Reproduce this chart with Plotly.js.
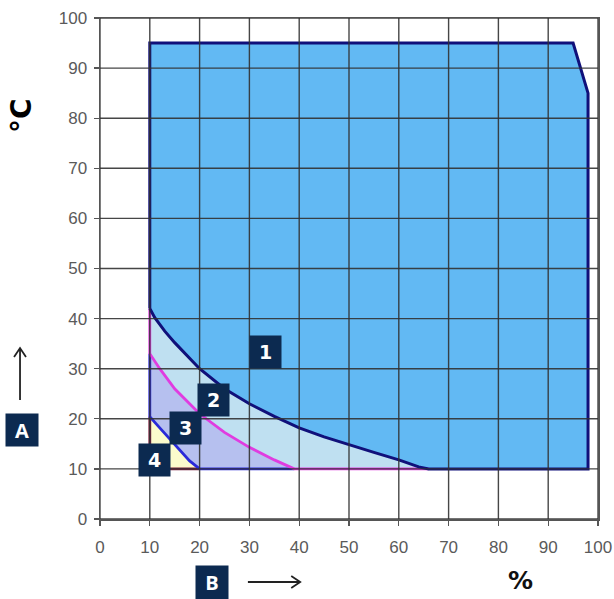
<!DOCTYPE html>
<html>
<head>
<meta charset="utf-8">
<script src="https://cdn.plot.ly/plotly-3.0.1.min.js"></script>
<style>html,body{margin:0;padding:0;background:#fff;}#chart{width:614px;height:599px;}</style>
</head>
<body>
<div id="chart"></div>
<script>
// Outer boundary of zone 1 (corners)
const zone1X = [10, 10, 95, 98, 98];
const zone1Y = [42, 95, 95, 85, 10];
// Boundary curve between zone 1 and zone 2 (navy)
const curve1X = [10, 11, 13, 15, 18, 20, 25, 30, 35, 40, 45, 50, 55, 60, 64, 66];
const curve1Y = [42, 40.2, 37.5, 35.2, 32, 30, 26, 23, 20.5, 18.2, 16.4, 14.8, 13.3, 11.8, 10.4, 10];
// Boundary curve between zone 2 and zone 3 (magenta)
const curve2X = [10, 12, 15, 20, 25, 30, 35, 39];
const curve2Y = [33, 30, 26, 21, 17.3, 14.3, 11.8, 10];
// Boundary curve between zone 3 and zone 4 (blue)
const curve3X = [10, 12, 14, 16, 18, 20];
const curve3Y = [20.4, 18.2, 16, 13.8, 11.6, 10];
// Lower-left corner of all zones
const cornerX = 10, cornerY = 10;
// Zone labels and positions
const zoneLabels = ['1', '2', '3', '4'];
const zoneLabelX = [33.3, 22.7, 17.1, 11];
const zoneLabelY = [33.3, 23.7, 18.2, 11.8];
// Tick values
const tickVals = [0, 10, 20, 30, 40, 50, 60, 70, 80, 90, 100];

const rev = a => a.slice().reverse();

const NAVY = '#10107a', MAG = '#e03ce0', BLUE = '#2a2ad8', MAROON = '#7a1e3c';
const BOX = '#0c2a50';

const traces = [];
traces.push({x: zone1X.concat(rev(curve1X)), y: zone1Y.concat(rev(curve1Y)),
  mode: 'lines', fill: 'toself', fillcolor: '#62b9f3', line: {width: 0}, hoverinfo: 'skip'});
traces.push({x: curve1X.concat([cornerX]), y: curve1Y.concat([cornerY]),
  mode: 'lines', fill: 'toself', fillcolor: '#bfe0f1', line: {width: 0}, hoverinfo: 'skip'});
traces.push({x: curve2X.concat([cornerX]), y: curve2Y.concat([cornerY]),
  mode: 'lines', fill: 'toself', fillcolor: '#b6c0ef', line: {width: 0}, hoverinfo: 'skip'});
traces.push({x: curve3X.concat([cornerX]), y: curve3Y.concat([cornerY]),
  mode: 'lines', fill: 'toself', fillcolor: '#fbfbcc', line: {width: 0}, hoverinfo: 'skip'});

traces.push({x: [cornerX, cornerX].concat(curve3X.slice(-1)), y: [curve3Y[0], cornerY, cornerY],
  mode: 'lines', line: {color: MAROON, width: 2.8}, hoverinfo: 'skip'});
traces.push({x: [cornerX].concat(curve3X, [curve2X[curve2X.length - 1]]),
  y: [curve2Y[0]].concat(curve3Y, [cornerY]),
  mode: 'lines', line: {color: BLUE, width: 2.8}, hoverinfo: 'skip'});
traces.push({x: [cornerX].concat(curve2X, [curve1X[curve1X.length - 1]]),
  y: [curve1Y[0]].concat(curve2Y, [cornerY]),
  mode: 'lines', line: {color: MAG, width: 2.8}, hoverinfo: 'skip'});
traces.push({x: zone1X.concat(rev(curve1X)), y: zone1Y.concat(rev(curve1Y)),
  mode: 'lines', line: {color: NAVY, width: 3}, hoverinfo: 'skip'});

const GRID = 'rgba(50,50,50,0.9)';
const shapes = [];
tickVals.forEach(v => {
  shapes.push({type: 'line', xref: 'x', yref: 'paper', x0: v, x1: v, y0: 0, y1: 1,
    line: {color: GRID, width: 1.4}, layer: 'above'});
  shapes.push({type: 'line', xref: 'paper', yref: 'y', x0: 0, x1: 1, y0: v, y1: v,
    line: {color: GRID, width: 1.4}, layer: 'above'});
});
// Direction arrows (paper coordinates)
const ARROW = {color: '#222', width: 1.8};
shapes.push({type: 'path', xref: 'paper', yref: 'paper',
  path: 'M 0.297,-0.1257 L 0.402,-0.1257 M 0.384,-0.1137 L 0.402,-0.1257 L 0.384,-0.1377',
  line: ARROW});
shapes.push({type: 'path', xref: 'paper', yref: 'paper',
  path: 'M -0.1606,0.2375 L -0.1606,0.3413 M -0.1726,0.3233 L -0.1606,0.3413 L -0.1486,0.3233',
  line: ARROW});

const annotations = [];
zoneLabels.forEach((t, i) => {
  annotations.push({x: zoneLabelX[i], y: zoneLabelY[i], xref: 'x', yref: 'y', text: '<b>' + t + '</b>',
    xanchor: 'center', yanchor: 'middle',
    showarrow: false, bgcolor: BOX, width: 29, height: 30, valign: 'middle',
    font: {family: 'DejaVu Sans', size: 19, color: '#fff'}});
});
annotations.push({xref: 'paper', yref: 'paper', x: -0.159, y: 0.806, text: '<b>°C</b>', textangle: -90,
  xanchor: 'center', yanchor: 'middle',
  showarrow: false, font: {family: 'DejaVu Sans', size: 28, color: '#000'}});
annotations.push({xref: 'paper', yref: 'paper', x: 0.845, y: -0.122, text: '<b>%</b>',
  xanchor: 'center', yanchor: 'middle',
  showarrow: false, font: {family: 'DejaVu Sans', size: 25, color: '#111'}});
annotations.push({xref: 'paper', yref: 'paper', x: 0.225, y: -0.126, text: '<b>B</b>',
  xanchor: 'center', yanchor: 'middle',
  showarrow: false, bgcolor: BOX, width: 30, height: 31, valign: 'middle',
  font: {family: 'Open Sans', size: 20, color: '#fff'}});
annotations.push({xref: 'paper', yref: 'paper', x: -0.157, y: 0.178, text: '<b>A</b>',
  xanchor: 'center', yanchor: 'middle',
  showarrow: false, bgcolor: BOX, width: 30, height: 30, valign: 'middle',
  font: {family: 'Open Sans', size: 20, color: '#fff'}});

const axisCommon = {range: [0, 100], tickvals: tickVals, showgrid: false, zeroline: false,
  showline: true, mirror: true, linecolor: '#555', linewidth: 1.5,
  ticks: 'outside', ticklen: 5, tickcolor: '#555', tickwidth: 1.3,
  tickfont: {family: 'Liberation Sans', size: 17, color: '#5a5a5a'}, fixedrange: true};

const layout = {
  width: 614, height: 599,
  margin: {l: 100, r: 16, t: 18, b: 80},
  paper_bgcolor: '#fff', plot_bgcolor: '#fff',
  showlegend: false,
  xaxis: Object.assign({}, axisCommon, {ticklabelstandoff: 7}),
  yaxis: Object.assign({}, axisCommon, {ticklabelstandoff: 3}),
  shapes: shapes,
  annotations: annotations
};

Plotly.newPlot('chart', traces, layout, {displayModeBar: false, staticPlot: true});
</script>
</body>
</html>
